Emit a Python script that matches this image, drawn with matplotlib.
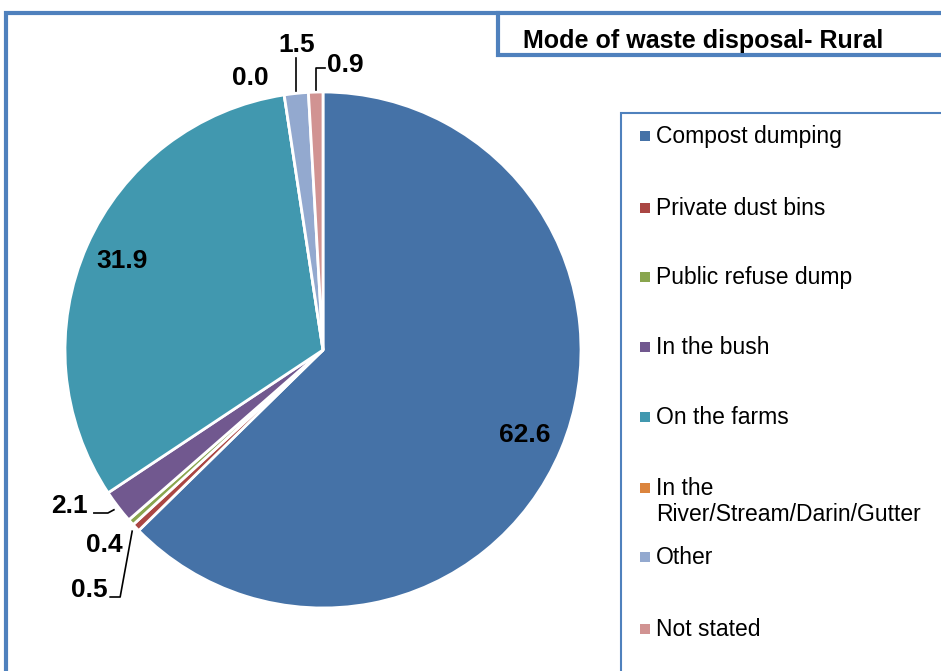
import numpy as np
import matplotlib.pyplot as plt
from matplotlib.patches import Rectangle

plt.rcParams['font.family'] = ['Liberation Sans', 'DejaVu Sans']

# data
categories = ['Compost dumping', 'Private dust bins', 'Public refuse dump', 'In the bush',
              'On the farms', 'In the\nRiver/Stream/Darin/Gutter', 'Other', 'Not stated']
values = [62.6, 0.5, 0.4, 2.1, 31.9, 0.0, 1.5, 0.9]
colors = ['#4572A7', '#AA4643', '#89A54E', '#71588F', '#4198AF', '#DB843D', '#93A9CF', '#D19392']
title = 'Mode of waste disposal- Rural'

W, H = 941, 671
border = '#4F81BD'

fig = plt.figure(figsize=(W / 100, H / 100), dpi=100)
ax = fig.add_axes([0, 0, 1, 1])

cx, cy, r = 323, H - 350, 258
wedges, _ = ax.pie(values, colors=colors, startangle=90, counterclock=False,
                   center=(cx, cy), radius=r,
                   wedgeprops=dict(edgecolor='white', linewidth=2))
ax.set_xlim(0, W)
ax.set_ylim(0, H)
ax.set_aspect('equal')
ax.axis('off')


def edge_point(w, frac=1.0, where=0.5):
    ang = np.deg2rad(w.theta1 + (w.theta2 - w.theta1) * where)
    return cx + r * frac * np.cos(ang), cy + r * frac * np.sin(ang)


lab = dict(fontsize=19, fontweight='bold', color='black', va='center')

# big slices: labels inside
for i in (0, 4):
    x, y = edge_point(wedges[i], 0.85)
    ax.text(x, y, f'{values[i]:.1f}', ha='center', **lab)

# small slices with leader lines
# Other (1.5)
x0, y0 = edge_point(wedges[6])
ax.plot([x0, x0], [y0 + 2, H - 58], color='black', lw=1.2)
ax.text(x0, H - 45, f'{values[6]:.1f}', ha='center', **lab)
# Not stated (0.9)
x0, y0 = edge_point(wedges[7])
ax.plot([x0, x0, x0 + 9], [y0 + 2, H - 68, H - 68], color='black', lw=1.2)
ax.text(x0 + 11, H - 65, f'{values[7]:.1f}', ha='left', **lab)
# River (0.0)
ax.text(250, H - 78, f'{values[5]:.1f}', ha='center', **lab)
# In the bush (2.1)
x0, y0 = edge_point(wedges[3], 1.02)
ax.plot([x0, x0 - 6, x0 - 20], [y0, H - 513, H - 513], color='black', lw=1.2)
ax.text(x0 - 26, H - 506, f'{values[3]:.1f}', ha='right', **lab)
# Public refuse dump (0.4)
ax.text(123, H - 545, f'{values[2]:.1f}', ha='right', **lab)
# Private dust bins (0.5)
x0, y0 = edge_point(wedges[1], 1.02)
ax.plot([x0, x0 - 12, x0 - 22], [y0, H - 597, H - 597], color='black', lw=1.2)
ax.text(x0 - 25, H - 590, f'{values[1]:.1f}', ha='right', **lab)

# frames
ax.plot([6, 6, W + 5], [-5, H - 13, H - 13], color=border, lw=3, solid_joinstyle='miter')
ax.plot([498, 498, W + 5], [H - 13, H - 55, H - 55], color=border, lw=3, solid_joinstyle='miter')
ax.plot([621, 621, W + 5], [-5, H - 113, H - 113], color=border, lw=1.5, solid_joinstyle='miter')

ax.text(523, H - 41, title, fontsize=18, fontweight='bold', ha='left', va='center')

# legend
ys = [136, 208, 277, 347, 417, 488, 557, 629]
for lbl, col, yy in zip(categories, colors, ys):
    ax.add_patch(Rectangle((640, H - yy - 5), 10, 10, facecolor=col, edgecolor='none'))
    ax.text(656, H - yy + 11, lbl, fontsize=16.5, ha='left', va='top', linespacing=1.15)

fig.savefig('out.png', dpi=100)
